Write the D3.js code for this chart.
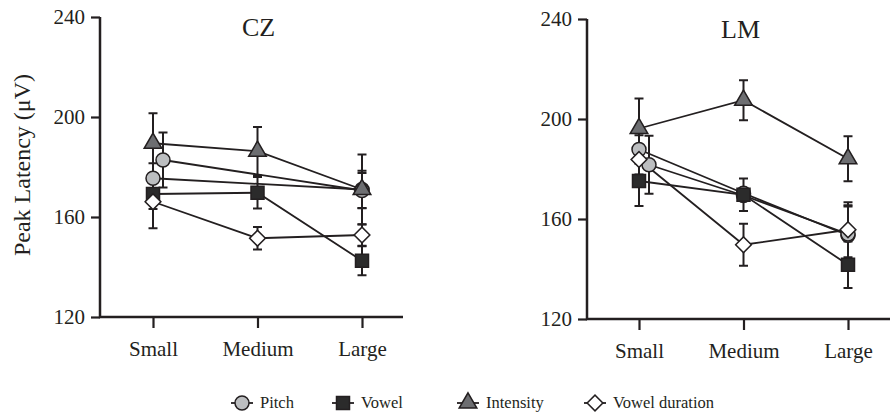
<!DOCTYPE html>
<html>
<head>
<meta charset="utf-8">
<script src="https://cdn.jsdelivr.net/npm/d3@7"></script>
<style>
  body { margin: 0; background: #fff; }
</style>
</head>
<body>
<script>
// categories + ticks
var categories = ["Small", "Medium", "Large"];
var yTicks = [120, 160, 200, 240];
var panelNames = ["CZ", "LM"];

// CZ means / error (null = not plotted)
var czPitch = [175.5, null, 171];
var czPitchErr = [6, null, 7.5];
var czPitch2 = [182.8, null, 170.6];
var czPitch2Err = [11, null, 7];
var czVowel = [169.2, 169.7, 142.5];
var czVowelErr = [6, 6.3, 5.8];
var czIntensity = [189.5, 186.3, 171];
var czIntensityErr = [12, 9.7, 14];
var czVowelDur = [166.1, 151.5, 152.8];
var czVowelDurErr = [10.6, 4.5, 4.3];

// LM means / error
var lmPitch = [187.8, 170.3, 153.5];
var lmPitchErr = [5.7, 2, 12];
var lmPitch2 = [181.7, 169.4, 154];
var lmPitch2Err = [11.6, 2, 11];
var lmVowel = [175.2, 169.7, 141.7];
var lmVowelErr = [10, 6.5, 9.3];
var lmIntensity = [196.2, 207.5, 184.1];
var lmIntensityErr = [12, 8, 9];
var lmVowelDur = [183.8, 149.7, 155.7];
var lmVowelDurErr = [6, 8.4, 11];

var legendNames = ["Pitch", "Vowel", "Intensity", "Vowel duration"];

var width = 890, height = 417;
var ink = "#231f20";
var serif = "Liberation Serif";

var styles = {
  circle:   { type: d3.symbolCircle,   size: 154, fill: "#bcbec0" },
  square:   { type: d3.symbolSquare,   size: 169, fill: "#2b2b2b" },
  triangle: { type: d3.symbolTriangle, size: 135, fill: "#6d6e71" },
  diamond:  { type: d3.symbolSquare,   size: 124, fill: "#ffffff", rotate: 45 }
};

// draw order matters: later ones sit on top
function seriesFor(p) {
  return [
    { shape: "circle", vals: p.pitch, err: p.pitchErr, dx: 0 },
    { shape: "circle", vals: p.pitch2, err: p.pitch2Err, dx: 10 },
    { shape: "square", vals: p.vowel, err: p.vowelErr, dx: 0 },
    { shape: "diamond", vals: p.vowelDur, err: p.vowelDurErr, dx: 0 },
    { shape: "triangle", vals: p.intensity, err: p.intensityErr, dx: 0 }
  ];
}

var panels = [
  { name: panelNames[0], x0: 100, x1: 403, xr: [153, 362], yr: [317, 17], tdx: 1,
    pitch: czPitch, pitchErr: czPitchErr, pitch2: czPitch2, pitch2Err: czPitch2Err,
    vowel: czVowel, vowelErr: czVowelErr, intensity: czIntensity, intensityErr: czIntensityErr,
    vowelDur: czVowelDur, vowelDurErr: czVowelDurErr },
  { name: panelNames[1], x0: 587, x1: 890, xr: [639, 848], yr: [319, 19], tdx: -3,
    pitch: lmPitch, pitchErr: lmPitchErr, pitch2: lmPitch2, pitch2Err: lmPitch2Err,
    vowel: lmVowel, vowelErr: lmVowelErr, intensity: lmIntensity, intensityErr: lmIntensityErr,
    vowelDur: lmVowelDur, vowelDurErr: lmVowelDurErr }
];

var svg = d3.select("body").append("svg")
    .attr("width", width)
    .attr("height", height)
    .style("font-family", serif);

function symbolPath(shape) {
  var s = styles[shape];
  return d3.symbol().type(s.type).size(s.size)();
}

panels.forEach(function (p) {
  var x = d3.scalePoint().domain(categories).range(p.xr);
  var y = d3.scaleLinear().domain([120, 240]).range(p.yr);
  var g = svg.append("g");

  // y axis
  var yAx = g.append("g")
      .attr("transform", "translate(" + p.x0 + ",0)")
      .call(d3.axisLeft(y).tickValues(yTicks).tickSize(9).tickPadding(6).tickSizeOuter(0))
      .attr("font-family", null)
      .attr("font-size", null);
  yAx.select(".domain").remove();
  yAx.selectAll(".tick line").attr("stroke", ink).attr("stroke-width", 2.2);
  yAx.selectAll(".tick text").style("font-size", "21px").style("font-family", serif).attr("fill", ink);

  // x axis
  var xAx = g.append("g")
      .attr("transform", "translate(0," + p.yr[0] + ")")
      .call(d3.axisBottom(x).tickSize(11).tickPadding(13).tickSizeOuter(0))
      .attr("font-family", null)
      .attr("font-size", null);
  xAx.select(".domain").remove();
  xAx.selectAll(".tick line").attr("stroke", ink).attr("stroke-width", 2.2);
  xAx.selectAll(".tick text").style("font-size", "21px").style("font-family", serif).attr("fill", ink);

  // axis lines (L shape)
  g.append("path")
      .attr("d", "M" + p.x0 + "," + p.yr[1] + "V" + p.yr[0] + "H" + p.x1)
      .attr("fill", "none")
      .attr("stroke", ink)
      .attr("stroke-width", 2.5);

  g.append("text")
      .attr("x", x("Medium") + p.tdx)
      .attr("y", p.yr[1] + 19)
      .attr("text-anchor", "middle")
      .attr("fill", ink)
      .style("font-family", serif)
      .style("font-size", "26px")
      .text(p.name);

  var series = seriesFor(p);
  series.forEach(function (s) {
    s.pts = s.vals.map(function (v, i) {
      return { cat: categories[i], v: v, e: s.err[i] };
    }).filter(function (d) { return d.v != null; });
    s.cx = function (d) { return x(d.cat) + (d.cat == "Small" ? s.dx : 0); };
  });

  // connecting lines
  series.forEach(function (s) {
    var line = d3.line()
        .x(s.cx)
        .y(function (d) { return y(d.v); });
    g.append("path")
        .datum(s.pts)
        .attr("d", line)
        .attr("fill", "none")
        .attr("stroke", ink)
        .attr("stroke-width", 1.8);
  });

  // error bars
  series.forEach(function (s) {
    var eb = g.append("g").selectAll("g")
        .data(s.pts)
        .enter().append("g")
        .attr("stroke", ink)
        .attr("stroke-width", 2);
    eb.append("line")
        .attr("x1", s.cx).attr("x2", s.cx)
        .attr("y1", function (d) { return y(d.v + d.e); })
        .attr("y2", function (d) { return y(d.v - d.e); });
    [1, -1].forEach(function (sign) {
      eb.append("line")
          .attr("x1", function (d) { return s.cx(d) - 4.5; })
          .attr("x2", function (d) { return s.cx(d) + 4.5; })
          .attr("y1", function (d) { return y(d.v + sign * d.e); })
          .attr("y2", function (d) { return y(d.v + sign * d.e); });
    });
  });

  // markers
  series.forEach(function (s) {
    var st = styles[s.shape];
    g.append("g").selectAll("path")
        .data(s.pts)
        .enter().append("path")
        .attr("d", symbolPath(s.shape))
        .attr("transform", function (d) {
          return "translate(" + s.cx(d) + "," + y(d.v) + ")" + (st.rotate ? " rotate(" + st.rotate + ")" : "");
        })
        .attr("fill", st.fill)
        .attr("stroke", ink)
        .attr("stroke-width", 1.5);
  });
});

// y axis title
svg.append("text")
    .attr("transform", "translate(30,165) rotate(-90)")
    .attr("text-anchor", "middle")
    .attr("fill", ink)
    .style("font-family", serif)
    .style("font-size", "24px")
    .text("Peak Latency (\u03bcV)");

// legend
var legendShapes = ["circle", "square", "triangle", "diamond"];
var legendX = [242, 343, 468, 595];
var legY = 403;
var leg = svg.append("g");
legendNames.forEach(function (name, i) {
  var cx = legendX[i];
  var st = styles[legendShapes[i]];
  leg.append("line")
      .attr("x1", cx - 11).attr("x2", cx + 11)
      .attr("y1", legY).attr("y2", legY)
      .attr("stroke", ink).attr("stroke-width", 1.8);
  leg.append("path")
      .attr("d", symbolPath(legendShapes[i]))
      .attr("transform", "translate(" + cx + "," + legY + ")" + (st.rotate ? " rotate(" + st.rotate + ")" : ""))
      .attr("fill", st.fill)
      .attr("stroke", ink)
      .attr("stroke-width", 1.5);
  leg.append("text")
      .attr("x", cx + 18)
      .attr("y", legY + 5)
      .attr("fill", ink)
      .style("font-family", serif)
      .style("font-size", "16.5px")
      .text(name);
});
</script>
</body>
</html>
